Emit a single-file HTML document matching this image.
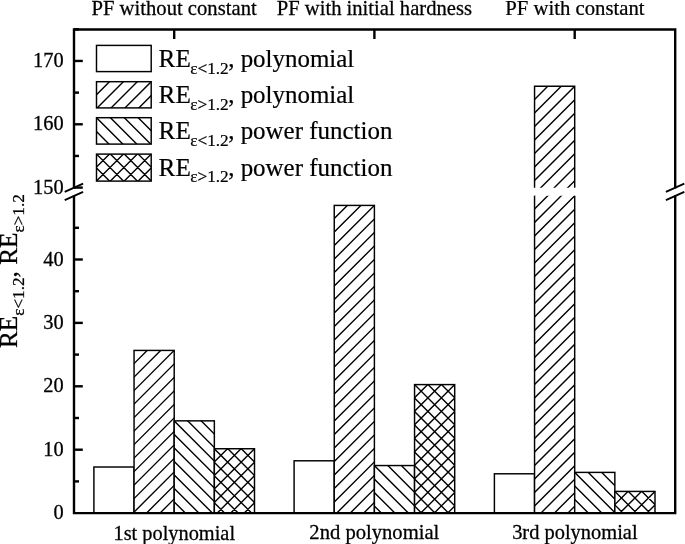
<!DOCTYPE html>
<html><head><meta charset="utf-8"><title>chart</title>
<style>
html,body{margin:0;padding:0;background:#fff;}
svg{display:block}
text{font-family:"Liberation Serif","Times New Roman",serif;fill:#000;stroke:#000}
</style></head><body>
<svg width="685" height="544" viewBox="0 0 685 544">
<rect width="685" height="544" fill="#fff"/>

<rect x="93.90" y="467.01" width="40.15" height="46.09" fill="#fff"/>
<rect x="93.90" y="467.01" width="40.15" height="46.09" fill="none" stroke="#000" stroke-width="1.45"/>
<rect x="134.05" y="350.42" width="40.15" height="162.68" fill="#fff"/>
<clipPath id="c1"><rect x="134.05" y="350.42" width="40.15" height="162.68"/></clipPath>
<path clip-path="url(#c1)" d="M133.05 391.57L175.20 349.42M133.05 378.07L175.20 335.92M133.05 364.57L175.20 322.42M133.05 351.07L175.20 308.92M133.05 337.57L175.20 295.42M133.05 324.07L175.20 281.92M133.05 310.57L175.20 268.42M133.05 297.07L175.20 254.92M133.05 283.57L175.20 241.42M133.05 270.07L175.20 227.92M133.05 256.57L175.20 214.42M133.05 243.07L175.20 200.92M133.05 229.57L175.20 187.42M133.05 216.07L175.20 173.92M133.05 202.57L175.20 160.42M133.05 189.07L175.20 146.92M133.05 175.57L175.20 133.42M133.05 162.07L175.20 119.92M133.05 405.07L175.20 362.92M133.05 418.57L175.20 376.42M133.05 432.07L175.20 389.92M133.05 445.57L175.20 403.42M133.05 459.07L175.20 416.92M133.05 472.57L175.20 430.42M133.05 486.07L175.20 443.92M133.05 499.57L175.20 457.42M133.05 513.07L175.20 470.92M133.05 526.57L175.20 484.42M133.05 540.07L175.20 497.92M133.05 553.57L175.20 511.42" stroke="#000" stroke-width="1.4" fill="none"/>
<rect x="134.05" y="350.42" width="40.15" height="162.68" fill="none" stroke="#000" stroke-width="1.45"/>
<rect x="174.20" y="420.85" width="40.15" height="92.25" fill="#fff"/>
<clipPath id="c2"><rect x="174.20" y="420.85" width="40.15" height="92.25"/></clipPath>
<path clip-path="url(#c2)" d="M173.20 379.35L215.35 421.50M173.20 392.85L215.35 435.00M173.20 406.35L215.35 448.50M173.20 419.85L215.35 462.00M173.20 433.35L215.35 475.50M173.20 446.85L215.35 489.00M173.20 460.35L215.35 502.50M173.20 473.85L215.35 516.00M173.20 487.35L215.35 529.50M173.20 500.85L215.35 543.00" stroke="#000" stroke-width="1.4" fill="none"/>
<rect x="174.20" y="420.85" width="40.15" height="92.25" fill="none" stroke="#000" stroke-width="1.45"/>
<rect x="214.35" y="448.75" width="40.15" height="64.35" fill="#fff"/>
<clipPath id="c3"><rect x="214.35" y="448.75" width="40.15" height="64.35"/></clipPath>
<path clip-path="url(#c3)" d="M213.35 489.90L255.50 447.75M213.35 476.40L255.50 434.25M213.35 462.90L255.50 420.75M213.35 449.40L255.50 407.25M213.35 435.90L255.50 393.75M213.35 422.40L255.50 380.25M213.35 408.90L255.50 366.75M213.35 395.40L255.50 353.25M213.35 381.90L255.50 339.75M213.35 368.40L255.50 326.25M213.35 503.40L255.50 461.25M213.35 516.90L255.50 474.75M213.35 530.40L255.50 488.25M213.35 543.90L255.50 501.75M213.35 407.25L255.50 449.40M213.35 420.75L255.50 462.90M213.35 434.25L255.50 476.40M213.35 447.75L255.50 489.90M213.35 461.25L255.50 503.40M213.35 474.75L255.50 516.90M213.35 488.25L255.50 530.40M213.35 501.75L255.50 543.90" stroke="#000" stroke-width="1.4" fill="none"/>
<rect x="214.35" y="448.75" width="40.15" height="64.35" fill="none" stroke="#000" stroke-width="1.45"/>
<rect x="294.10" y="460.80" width="40.15" height="52.31" fill="#fff"/>
<rect x="294.10" y="460.80" width="40.15" height="52.31" fill="none" stroke="#000" stroke-width="1.45"/>
<rect x="334.25" y="205.42" width="40.15" height="307.68" fill="#fff"/>
<clipPath id="c4"><rect x="334.25" y="205.42" width="40.15" height="307.68"/></clipPath>
<path clip-path="url(#c4)" d="M333.25 246.57L375.40 204.42M333.25 233.07L375.40 190.92M333.25 219.57L375.40 177.42M333.25 206.07L375.40 163.92M333.25 192.57L375.40 150.42M333.25 179.07L375.40 136.92M333.25 165.57L375.40 123.42M333.25 152.07L375.40 109.92M333.25 138.57L375.40 96.42M333.25 125.07L375.40 82.92M333.25 111.57L375.40 69.42M333.25 98.07L375.40 55.92M333.25 84.57L375.40 42.42M333.25 71.07L375.40 28.92M333.25 57.57L375.40 15.42M333.25 44.07L375.40 1.92M333.25 30.57L375.40 -11.58M333.25 17.07L375.40 -25.08M333.25 3.57L375.40 -38.58M333.25 -9.93L375.40 -52.08M333.25 -23.43L375.40 -65.58M333.25 -36.93L375.40 -79.08M333.25 -50.43L375.40 -92.58M333.25 -63.93L375.40 -106.08M333.25 -77.43L375.40 -119.58M333.25 -90.93L375.40 -133.08M333.25 -104.43L375.40 -146.58M333.25 -117.93L375.40 -160.08M333.25 260.07L375.40 217.92M333.25 273.57L375.40 231.42M333.25 287.07L375.40 244.92M333.25 300.57L375.40 258.42M333.25 314.07L375.40 271.92M333.25 327.57L375.40 285.42M333.25 341.07L375.40 298.92M333.25 354.57L375.40 312.42M333.25 368.07L375.40 325.92M333.25 381.57L375.40 339.42M333.25 395.07L375.40 352.92M333.25 408.57L375.40 366.42M333.25 422.07L375.40 379.92M333.25 435.57L375.40 393.42M333.25 449.07L375.40 406.92M333.25 462.57L375.40 420.42M333.25 476.07L375.40 433.92M333.25 489.57L375.40 447.42M333.25 503.07L375.40 460.92M333.25 516.57L375.40 474.42M333.25 530.07L375.40 487.92M333.25 543.57L375.40 501.42" stroke="#000" stroke-width="1.4" fill="none"/>
<rect x="334.25" y="205.42" width="40.15" height="307.68" fill="none" stroke="#000" stroke-width="1.45"/>
<rect x="374.40" y="465.55" width="40.15" height="47.55" fill="#fff"/>
<clipPath id="c5"><rect x="374.40" y="465.55" width="40.15" height="47.55"/></clipPath>
<path clip-path="url(#c5)" d="M373.40 424.05L415.55 466.20M373.40 437.55L415.55 479.70M373.40 451.05L415.55 493.20M373.40 464.55L415.55 506.70M373.40 478.05L415.55 520.20M373.40 491.55L415.55 533.70M373.40 505.05L415.55 547.20" stroke="#000" stroke-width="1.4" fill="none"/>
<rect x="374.40" y="465.55" width="40.15" height="47.55" fill="none" stroke="#000" stroke-width="1.45"/>
<rect x="414.55" y="384.59" width="40.15" height="128.51" fill="#fff"/>
<clipPath id="c6"><rect x="414.55" y="384.59" width="40.15" height="128.51"/></clipPath>
<path clip-path="url(#c6)" d="M413.55 425.74L455.70 383.59M413.55 412.24L455.70 370.09M413.55 398.74L455.70 356.59M413.55 385.24L455.70 343.09M413.55 371.74L455.70 329.59M413.55 358.24L455.70 316.09M413.55 344.74L455.70 302.59M413.55 331.24L455.70 289.09M413.55 317.74L455.70 275.59M413.55 304.24L455.70 262.09M413.55 290.74L455.70 248.59M413.55 277.24L455.70 235.09M413.55 263.74L455.70 221.59M413.55 250.24L455.70 208.09M413.55 236.74L455.70 194.59M413.55 439.24L455.70 397.09M413.55 452.74L455.70 410.59M413.55 466.24L455.70 424.09M413.55 479.74L455.70 437.59M413.55 493.24L455.70 451.09M413.55 506.74L455.70 464.59M413.55 520.24L455.70 478.09M413.55 533.74L455.70 491.59M413.55 547.24L455.70 505.09M413.55 343.09L455.70 385.24M413.55 356.59L455.70 398.74M413.55 370.09L455.70 412.24M413.55 383.59L455.70 425.74M413.55 397.09L455.70 439.24M413.55 410.59L455.70 452.74M413.55 424.09L455.70 466.24M413.55 437.59L455.70 479.74M413.55 451.09L455.70 493.24M413.55 464.59L455.70 506.74M413.55 478.09L455.70 520.24M413.55 491.59L455.70 533.74M413.55 505.09L455.70 547.24" stroke="#000" stroke-width="1.4" fill="none"/>
<rect x="414.55" y="384.59" width="40.15" height="128.51" fill="none" stroke="#000" stroke-width="1.45"/>
<rect x="494.40" y="473.79" width="40.15" height="39.31" fill="#fff"/>
<rect x="494.40" y="473.79" width="40.15" height="39.31" fill="none" stroke="#000" stroke-width="1.45"/>
<rect x="534.55" y="86.29" width="40.15" height="101.41" fill="#fff"/>
<clipPath id="c7"><rect x="534.55" y="86.29" width="40.15" height="101.41"/></clipPath>
<path clip-path="url(#c7)" d="M533.55 127.44L575.70 85.29M533.55 113.94L575.70 71.79M533.55 100.44L575.70 58.29M533.55 86.94L575.70 44.79M533.55 73.44L575.70 31.29M533.55 59.94L575.70 17.79M533.55 46.44L575.70 4.29M533.55 32.94L575.70 -9.21M533.55 19.44L575.70 -22.71M533.55 5.94L575.70 -36.21M533.55 -7.56L575.70 -49.71M533.55 -21.06L575.70 -63.21M533.55 -34.56L575.70 -76.71M533.55 140.94L575.70 98.79M533.55 154.44L575.70 112.29M533.55 167.94L575.70 125.79M533.55 181.44L575.70 139.29M533.55 194.94L575.70 152.79M533.55 208.44L575.70 166.29M533.55 221.94L575.70 179.79" stroke="#000" stroke-width="1.4" fill="none"/>
<path d="M534.55 187.70V86.29H574.70V187.70" fill="none" stroke="#000" stroke-width="1.45"/>
<rect x="534.55" y="195.80" width="40.15" height="317.30" fill="#fff"/>
<clipPath id="c8"><rect x="534.55" y="195.80" width="40.15" height="317.30"/></clipPath>
<path clip-path="url(#c8)" d="M533.55 236.95L575.70 194.80M533.55 223.45L575.70 181.30M533.55 209.95L575.70 167.80M533.55 196.45L575.70 154.30M533.55 182.95L575.70 140.80M533.55 169.45L575.70 127.30M533.55 155.95L575.70 113.80M533.55 142.45L575.70 100.30M533.55 128.95L575.70 86.80M533.55 115.45L575.70 73.30M533.55 101.95L575.70 59.80M533.55 88.45L575.70 46.30M533.55 74.95L575.70 32.80M533.55 61.45L575.70 19.30M533.55 47.95L575.70 5.80M533.55 34.45L575.70 -7.70M533.55 20.95L575.70 -21.20M533.55 7.45L575.70 -34.70M533.55 -6.05L575.70 -48.20M533.55 -19.55L575.70 -61.70M533.55 -33.05L575.70 -75.20M533.55 -46.55L575.70 -88.70M533.55 -60.05L575.70 -102.20M533.55 -73.55L575.70 -115.70M533.55 -87.05L575.70 -129.20M533.55 -100.55L575.70 -142.70M533.55 -114.05L575.70 -156.20M533.55 -127.55L575.70 -169.70M533.55 -141.05L575.70 -183.20M533.55 250.45L575.70 208.30M533.55 263.95L575.70 221.80M533.55 277.45L575.70 235.30M533.55 290.95L575.70 248.80M533.55 304.45L575.70 262.30M533.55 317.95L575.70 275.80M533.55 331.45L575.70 289.30M533.55 344.95L575.70 302.80M533.55 358.45L575.70 316.30M533.55 371.95L575.70 329.80M533.55 385.45L575.70 343.30M533.55 398.95L575.70 356.80M533.55 412.45L575.70 370.30M533.55 425.95L575.70 383.80M533.55 439.45L575.70 397.30M533.55 452.95L575.70 410.80M533.55 466.45L575.70 424.30M533.55 479.95L575.70 437.80M533.55 493.45L575.70 451.30M533.55 506.95L575.70 464.80M533.55 520.45L575.70 478.30M533.55 533.95L575.70 491.80M533.55 547.45L575.70 505.30" stroke="#000" stroke-width="1.4" fill="none"/>
<path d="M534.55 195.80V513.10H574.70V195.80" fill="none" stroke="#000" stroke-width="1.45"/>
<rect x="574.70" y="472.40" width="40.15" height="40.70" fill="#fff"/>
<clipPath id="c9"><rect x="574.70" y="472.40" width="40.15" height="40.70"/></clipPath>
<path clip-path="url(#c9)" d="M573.70 430.90L615.85 473.05M573.70 444.40L615.85 486.55M573.70 457.90L615.85 500.05M573.70 471.40L615.85 513.55M573.70 484.90L615.85 527.05M573.70 498.40L615.85 540.55M573.70 511.90L615.85 554.05" stroke="#000" stroke-width="1.4" fill="none"/>
<rect x="574.70" y="472.40" width="40.15" height="40.70" fill="none" stroke="#000" stroke-width="1.45"/>
<rect x="614.85" y="491.42" width="40.15" height="21.68" fill="#fff"/>
<clipPath id="c10"><rect x="614.85" y="491.42" width="40.15" height="21.68"/></clipPath>
<path clip-path="url(#c10)" d="M613.85 532.57L656.00 490.42M613.85 519.07L656.00 476.92M613.85 505.57L656.00 463.42M613.85 492.07L656.00 449.92M613.85 478.57L656.00 436.42M613.85 465.07L656.00 422.92M613.85 451.57L656.00 409.42M613.85 546.07L656.00 503.92M613.85 449.92L656.00 492.07M613.85 463.42L656.00 505.57M613.85 476.92L656.00 519.07M613.85 490.42L656.00 532.57M613.85 503.92L656.00 546.07" stroke="#000" stroke-width="1.4" fill="none"/>
<rect x="614.85" y="491.42" width="40.15" height="21.68" fill="none" stroke="#000" stroke-width="1.45"/>
<g stroke="#000" stroke-width="2.4" fill="none" stroke-linecap="butt">
<path d="M74.0 514.3000000000001V195.6 M74.0 188.4V28.3 M72.8 29.5H676.4000000000001 M675.2 28.3V188.4 M675.2 195.6V514.3000000000001 M72.8 513.1H676.4000000000001"/>
<path d="M174.20 29.5V39.0"/>
<path d="M374.40 29.5V39.0"/>
<path d="M574.70 29.5V39.0"/>
<path d="M74.0 449.70H82.8"/>
<path d="M74.0 386.30H82.8"/>
<path d="M74.0 322.90H82.8"/>
<path d="M74.0 259.50H82.8"/>
<path d="M74.0 481.40H79"/>
<path d="M74.0 418.00H79"/>
<path d="M74.0 354.60H79"/>
<path d="M74.0 291.20H79"/>
<path d="M74.0 227.80H79"/>
<path d="M74.0 187.60H82.8"/>
<path d="M74.0 124.28H82.8"/>
<path d="M74.0 60.96H82.8"/>
<path d="M74.0 155.94H79"/>
<path d="M74.0 92.62H79"/>
<path d="M74.0 29.30H79"/>
<path d="M64.70 191.8L83.10 183.6 M64.70 200.1L83.10 191.9" stroke-width="1.9"/>
<path d="M665.90 191.8L684.30 183.6 M665.90 200.1L684.30 191.9" stroke-width="1.9"/>
</g>
<rect x="96.50" y="45.40" width="54.70" height="26.20" fill="#fff"/>
<rect x="96.50" y="45.40" width="54.70" height="26.20" fill="none" stroke="#000" stroke-width="1.45"/>
<rect x="96.50" y="81.70" width="54.70" height="26.20" fill="#fff"/>
<clipPath id="c11"><rect x="96.50" y="81.70" width="54.70" height="26.20"/></clipPath>
<path clip-path="url(#c11)" d="M95.50 137.40L152.20 80.70M95.50 123.50L152.20 66.80M95.50 109.60L152.20 52.90M95.50 95.70L152.20 39.00M95.50 81.80L152.20 25.10M95.50 67.90L152.20 11.20M95.50 54.00L152.20 -2.70M95.50 40.10L152.20 -16.60M95.50 151.30L152.20 94.60M95.50 165.20L152.20 108.50" stroke="#000" stroke-width="1.4" fill="none"/>
<rect x="96.50" y="81.70" width="54.70" height="26.20" fill="none" stroke="#000" stroke-width="1.45"/>
<rect x="96.50" y="117.70" width="54.70" height="26.40" fill="#fff"/>
<clipPath id="c12"><rect x="96.50" y="117.70" width="54.70" height="26.40"/></clipPath>
<path clip-path="url(#c12)" d="M95.50 61.10L152.20 117.80M95.50 75.00L152.20 131.70M95.50 88.90L152.20 145.60M95.50 102.80L152.20 159.50M95.50 116.70L152.20 173.40M95.50 130.60L152.20 187.30M95.50 144.50L152.20 201.20" stroke="#000" stroke-width="1.4" fill="none"/>
<rect x="96.50" y="117.70" width="54.70" height="26.40" fill="none" stroke="#000" stroke-width="1.45"/>
<rect x="96.50" y="154.10" width="54.70" height="27.00" fill="#fff"/>
<clipPath id="c13"><rect x="96.50" y="154.10" width="54.70" height="27.00"/></clipPath>
<path clip-path="url(#c13)" d="M95.50 209.80L152.20 153.10M95.50 195.90L152.20 139.20M95.50 182.00L152.20 125.30M95.50 168.10L152.20 111.40M95.50 154.20L152.20 97.50M95.50 140.30L152.20 83.60M95.50 126.40L152.20 69.70M95.50 112.50L152.20 55.80M95.50 223.70L152.20 167.00M95.50 237.60L152.20 180.90M95.50 97.50L152.20 154.20M95.50 111.40L152.20 168.10M95.50 125.30L152.20 182.00M95.50 139.20L152.20 195.90M95.50 153.10L152.20 209.80M95.50 167.00L152.20 223.70M95.50 180.90L152.20 237.60" stroke="#000" stroke-width="1.4" fill="none"/>
<rect x="96.50" y="154.10" width="54.70" height="27.00" fill="none" stroke="#000" stroke-width="1.45"/>
<text x="0" y="0" font-size="20.5" stroke-width="0.25" transform="translate(91.40,14.60) scale(1.0086,1)">PF without constant</text>
<text x="0" y="0" font-size="20.5" stroke-width="0.25" transform="translate(276.70,14.60) scale(1.0067,1)">PF with initial hardness</text>
<text x="0" y="0" font-size="20.5" stroke-width="0.25" transform="translate(505.29,14.60) scale(1.0113,1)">PF with constant</text>
<text x="0" y="0" font-size="20.4" stroke-width="0.28" transform="translate(113.45,539.50) scale(0.9987,1)">1st polynomial</text>
<text x="0" y="0" font-size="20.4" stroke-width="0.28" transform="translate(309.34,539.20) scale(1.0110,1)">2nd polynomial</text>
<text x="0" y="0" font-size="20.4" stroke-width="0.28" transform="translate(512.15,539.00) scale(1.0028,1)">3rd polynomial</text>
<text x="0" y="0" font-size="25.8" stroke-width="0.22" transform="translate(158.61,66.90) scale(0.9760,1)">RE</text>
<text x="0" y="0" font-size="17" stroke-width="0.22" transform="translate(190.19,73.50) scale(1.0150,1)">ε&lt;1.2</text>
<text x="0" y="0" font-size="25.3" stroke-width="0.22" transform="translate(228.16,66.90) scale(0.9862,1)">, polynomial</text>
<text x="0" y="0" font-size="25.8" stroke-width="0.22" transform="translate(158.61,103.10) scale(0.9760,1)">RE</text>
<text x="0" y="0" font-size="17" stroke-width="0.22" transform="translate(190.19,109.70) scale(1.0150,1)">ε&gt;1.2</text>
<text x="0" y="0" font-size="25.3" stroke-width="0.22" transform="translate(228.16,103.10) scale(0.9862,1)">, polynomial</text>
<text x="0" y="0" font-size="25.8" stroke-width="0.22" transform="translate(158.61,139.30) scale(0.9760,1)">RE</text>
<text x="0" y="0" font-size="17" stroke-width="0.22" transform="translate(190.19,145.90) scale(1.0150,1)">ε&lt;1.2</text>
<text x="0" y="0" font-size="25.3" stroke-width="0.22" transform="translate(228.16,139.30) scale(0.9867,1)">, power function</text>
<text x="0" y="0" font-size="25.8" stroke-width="0.22" transform="translate(158.61,175.50) scale(0.9760,1)">RE</text>
<text x="0" y="0" font-size="17" stroke-width="0.22" transform="translate(190.19,182.10) scale(1.0150,1)">ε&gt;1.2</text>
<text x="0" y="0" font-size="25.3" stroke-width="0.22" transform="translate(228.16,175.50) scale(0.9867,1)">, power function</text>
<text x="0" y="0" font-size="21.5" stroke-width="0.3" transform="translate(53.50,519.10) scale(0.9500,1)">0</text>
<text x="0" y="0" font-size="21.5" stroke-width="0.3" transform="translate(43.29,455.70) scale(0.9500,1)">10</text>
<text x="0" y="0" font-size="21.5" stroke-width="0.3" transform="translate(43.29,392.30) scale(0.9500,1)">20</text>
<text x="0" y="0" font-size="21.5" stroke-width="0.3" transform="translate(43.29,328.90) scale(0.9500,1)">30</text>
<text x="0" y="0" font-size="21.5" stroke-width="0.3" transform="translate(43.29,265.50) scale(0.9500,1)">40</text>
<text x="0" y="0" font-size="21.5" stroke-width="0.3" transform="translate(33.08,193.70) scale(0.9500,1)">150</text>
<text x="0" y="0" font-size="21.5" stroke-width="0.3" transform="translate(33.08,130.38) scale(0.9500,1)">160</text>
<text x="0" y="0" font-size="21.5" stroke-width="0.3" transform="translate(33.08,67.06) scale(0.9500,1)">170</text>
<text x="0" y="0" font-size="25" stroke-width="0.25" transform="translate(16.50,348.11) rotate(-90) scale(1.0106,1)">RE<tspan font-size="17" dy="7.5">ε&lt;1.2</tspan><tspan dy="-7.5">, RE</tspan><tspan font-size="17" dy="7.5">ε&gt;1.2</tspan></text>
</svg></body></html>
